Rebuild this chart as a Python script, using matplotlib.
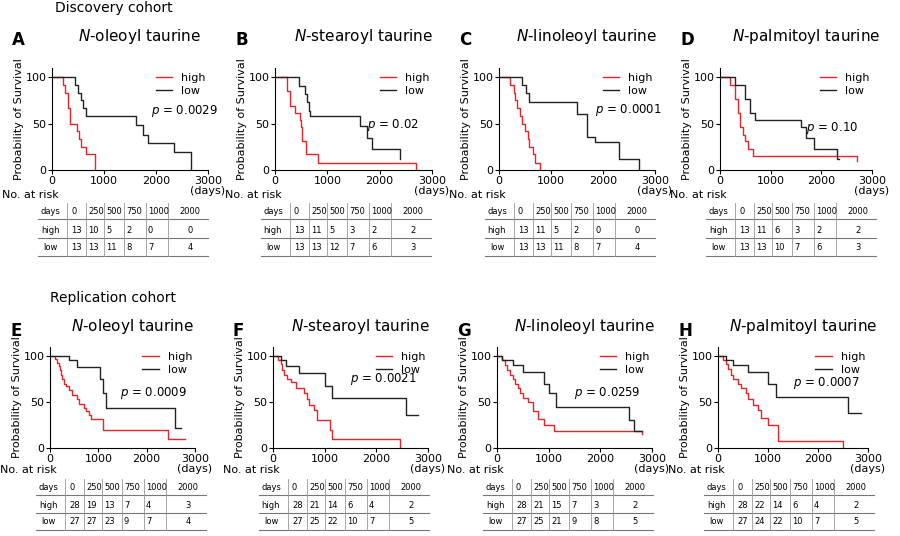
import matplotlib.pyplot as plt
import numpy as np

W, H = 900, 536

titles = ["oleoyl taurine", "stearoyl taurine", "linoleoyl taurine", "palmitoyl taurine"] * 2
letters = list("ABCDEFGH")
p_text = ["0.0029", "0.02", "0.0001", "0.10", "0.0009", "0.0021", "0.0259", "0.0007"]

# step curves: (times, survival %) ; last point is end of follow-up
high_t = [
    [0, 220, 250, 300, 340, 480, 510, 560, 650, 830],
    [0, 220, 280, 380, 480, 500, 520, 600, 820, 2700],
    [0, 220, 280, 300, 350, 400, 450, 500, 550, 580, 650, 700, 780],
    [0, 200, 300, 350, 400, 450, 500, 550, 650, 2700],
    [0, 100, 150, 180, 200, 220, 250, 280, 330, 400, 450, 550, 600, 700, 750, 800, 850, 1100, 2450, 2800],
    [0, 100, 150, 180, 220, 280, 350, 450, 600, 650, 700, 800, 850, 1100, 1150, 2450],
    [0, 100, 150, 200, 250, 300, 350, 400, 450, 500, 600, 700, 800, 900, 1100, 2800],
    [0, 100, 150, 200, 250, 300, 400, 450, 550, 600, 700, 800, 850, 1000, 1200, 2500],
]
high_s = [
    [100, 92, 83, 67, 50, 42, 33, 25, 17, 0],
    [100, 85, 69, 62, 54, 46, 31, 17, 8, 0],
    [100, 92, 83, 75, 67, 58, 50, 42, 33, 25, 17, 8, 0],
    [100, 92, 77, 62, 46, 38, 31, 23, 15, 10],
    [100, 97, 93, 89, 85, 80, 75, 70, 67, 63, 58, 53, 48, 44, 40, 36, 32, 20, 10, 10],
    [100, 96, 92, 85, 80, 75, 72, 65, 60, 53, 47, 41, 30, 20, 10, 0],
    [100, 96, 90, 85, 80, 75, 70, 65, 60, 55, 50, 40, 32, 25, 18, 15],
    [100, 96, 92, 86, 80, 75, 70, 65, 60, 53, 47, 41, 33, 25, 8, 0],
]
low_t = [
    [0, 450, 500, 550, 600, 650, 1620, 1750, 1850, 2350, 2680],
    [0, 450, 570, 620, 650, 670, 1620, 1750, 1850, 2380],
    [0, 450, 520, 580, 1500, 1700, 1850, 2300, 2700],
    [0, 300, 500, 600, 700, 1600, 1700, 1850, 2300, 2350],
    [0, 400, 550, 1030, 1100, 1150, 2580, 2700],
    [0, 150, 250, 500, 1000, 1150, 2580, 2800],
    [0, 100, 300, 500, 900, 1000, 1150, 2550, 2650, 2800],
    [0, 150, 300, 600, 1000, 1150, 2600, 2850],
]
low_s = [
    [100, 92, 83, 75, 67, 58, 48, 38, 29, 19, 0],
    [100, 91, 82, 73, 64, 58, 47, 35, 23, 12],
    [100, 92, 83, 73, 60, 36, 30, 12, 0],
    [100, 92, 77, 62, 54, 46, 35, 23, 12, 12],
    [100, 96, 88, 75, 60, 44, 22, 22],
    [100, 96, 89, 82, 68, 54, 36, 36],
    [100, 96, 90, 83, 70, 60, 45, 30, 18, 18],
    [100, 96, 90, 83, 70, 56, 38, 38],
]

risk_days = ["0", "250", "500", "750", "1000", "2000"]
risk_high = [
    [13, 10, 5, 2, 0, 0], [13, 11, 5, 3, 2, 2], [13, 11, 5, 2, 0, 0], [13, 11, 6, 3, 2, 2],
    [28, 19, 13, 7, 4, 3], [28, 21, 14, 6, 4, 2], [28, 21, 15, 7, 3, 2], [28, 22, 14, 6, 4, 2],
]
risk_low = [
    [13, 13, 11, 8, 7, 4], [13, 13, 12, 7, 6, 3], [13, 13, 11, 8, 7, 4], [13, 13, 10, 7, 6, 3],
    [27, 27, 23, 9, 7, 4], [27, 25, 22, 10, 7, 5], [27, 25, 21, 9, 8, 5], [27, 24, 22, 10, 7, 5],
]

# axes boxes in pixels: left, top, right, bottom
boxes = [
    (52, 68, 208, 170), (275, 68, 432, 170), (499, 68, 655, 170), (720, 68, 872, 170),
    (50, 347, 195, 448), (273, 347, 428, 448), (497, 347, 652, 448), (718, 347, 868, 448),
]
p_pos = [(1900, 60), (1750, 45), (1850, 62), (1700, 42), (1450, 57), (1500, 72), (1500, 57), (1500, 68)]

fig = plt.figure(figsize=(9, 5.36), dpi=100)


def fx(px):
    return px / W


def fy(py):
    return 1 - py / H


fig.text(fx(55), fy(8), "Discovery cohort", fontsize=10, va="center")
fig.text(fx(50), fy(298), "Replication cohort", fontsize=10, va="center")

for i in range(8):
    l, t, r, b = boxes[i]
    ax = fig.add_axes([fx(l), fy(b), fx(r - l), (b - t) / H])
    ax.step(high_t[i], high_s[i], where="post", color="#e8232a", lw=1, label="high")
    ax.step(low_t[i], low_s[i], where="post", color="#222222", lw=1, label="low")
    ax.set_xlim(0, 3000)
    ax.set_ylim(0, 110)
    ax.set_xticks([0, 1000, 2000, 3000])
    ax.set_yticks([0, 50, 100])
    ax.tick_params(labelsize=8, length=3, pad=1)
    ax.spines["top"].set_visible(False)
    ax.spines["right"].set_visible(False)
    ax.set_ylabel("Probability of Survival", fontsize=8, labelpad=1)
    ax.text(3000, -17, "(days)", fontsize=8, ha="center", va="top")
    ax.legend(loc="upper right", bbox_to_anchor=(1.05, 1.05), frameon=False, fontsize=8,
              handlelength=1.5, labelspacing=0.3)
    ax.text(p_pos[i][0], p_pos[i][1], "$p$ = " + p_text[i], fontsize=8.5)

    # panel letter and title
    top = 36 if i < 4 else 327
    fig.text(fx(l - 40), fy(top + 4), letters[i], fontsize=12, fontweight="bold", va="center")
    fig.text(fx((l + r) / 2 + 10), fy(top), "$N$-" + titles[i], fontsize=11, ha="center", va="center")

    # risk table
    y_nr = 195 if i < 4 else 470
    fig.text(fx(l - 50), fy(y_nr), "No. at risk", fontsize=8, va="center")
    t0 = l - 14
    rows_y = [211, 230, 248] if i < 4 else [487, 505, 522]
    col_x = [12, 33, 50, 68, 88, 110, 152]
    divs = [29, 48, 66, 86, 108, 130]
    tab_right = t0 + 170
    labels = ["days", "high", "low"]
    values = [risk_days, [str(v) for v in risk_high[i]], [str(v) for v in risk_low[i]]]
    for rr in range(3):
        yy = fy(rows_y[rr])
        fig.text(fx(t0 + col_x[0]), yy, labels[rr], fontsize=6, ha="center", va="center")
        for c in range(6):
            fig.text(fx(t0 + col_x[c + 1]), yy, values[rr][c], fontsize=6,
                     ha="center" if c == 5 else "left", va="center")
        fig.add_artist(plt.Line2D([fx(t0), fx(tab_right)], [fy(rows_y[rr] + 8)] * 2,
                                  color="#777777", lw=0.8))
    for d in divs:
        fig.add_artist(plt.Line2D([fx(t0 + d)] * 2, [fy(rows_y[0] - 8), fy(rows_y[2] + 8)],
                                  color="#999999", lw=0.6))

fig.savefig("out.png", dpi=100)
